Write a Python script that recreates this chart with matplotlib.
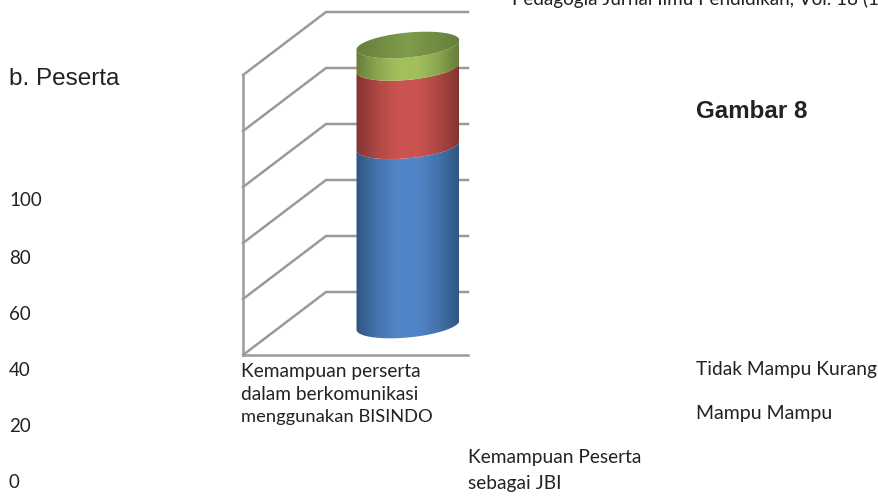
import numpy as np
import matplotlib
matplotlib.use("Agg")
import matplotlib.pyplot as plt
from matplotlib.patches import PathPatch
from matplotlib.path import Path
from matplotlib.colors import LinearSegmentedColormap

# values
axis_ticks = [0, 20, 40, 60, 80, 100]
segment_values = [64, 28, 8]
segment_colors = ["#5285c8", "#cb5450", "#a1c05c"]
segment_shades = ["#4473ad", "#ad4744", "#8ba54f"]
segment_edges = ["#2f5583", "#843331", "#667d39"]
top_colors = ["#667f3c", "#7f9c4c"]
tick_label_y = [481, 425, 369, 313, 257, 200]

scale = 2.8  # pixels per unit
base_y = 325  # pixel row of value 0 at the cylinder centre

fig = plt.figure(figsize=(8.79, 4.96), dpi=100)
ax = fig.add_axes([0, 0, 1, 1])
ax.set_xlim(0, 879)
ax.set_ylim((base_y - 496) / scale, base_y / scale)
ax.axis("off")

grid_color = "#9a9a9a"
front_shift = -30 / scale
back_shift = 33 / scale

# walls
for v in axis_ticks:
    ax.plot([243, 326, 468], [v + front_shift, v + back_shift, v + back_shift],
            color=grid_color, lw=1.8, solid_joinstyle="miter", zorder=1)
ax.plot([243, 243], [front_shift, 100 + front_shift], color=grid_color, lw=1.8, zorder=1)
ax.plot([243, 468], [front_shift, front_shift], color=grid_color, lw=1.8, zorder=1)

# cylinder
cx, a = 408, 51.5
b = 12.5 / scale
tilt = 0.09 / scale
t = np.linspace(0, 2 * np.pi, 200)


def ring(v):
    xs = cx + a * np.cos(t)
    ys = v + b * np.sin(t) + tilt * (xs - cx)
    return xs, ys


def front_arc(v):
    tt = np.linspace(np.pi, 2 * np.pi, 100)
    xs = cx + a * np.cos(tt)
    ys = v + b * np.sin(tt) + tilt * (xs - cx)
    return xs, ys


def gradient_fill(verts, stops, z):
    cmap = LinearSegmentedColormap.from_list("g", stops)
    im = ax.imshow(np.linspace(0, 1, 256).reshape(1, -1), cmap=cmap, aspect="auto",
                   extent=[cx - a, cx + a, -30, 120], zorder=z, interpolation="bilinear")
    im.set_clip_path(PathPatch(Path(verts), transform=ax.transData))


bottom = 0
for i, val in enumerate(segment_values):
    top = bottom + val
    x0, y0 = front_arc(bottom)
    x1, y1 = front_arc(top)
    verts = np.vstack([np.column_stack([x0, y0]), np.column_stack([x1, y1])[::-1]])
    stops = [segment_edges[i], segment_shades[i], segment_colors[i], segment_colors[i],
             segment_shades[i], segment_edges[i]]
    gradient_fill(verts, stops, 2 + i)
    bottom = top

xs, ys = ring(bottom)
gradient_fill(np.column_stack([xs, ys]), [top_colors[0], top_colors[1], top_colors[0]], 6)
ax.set_xlim(0, 879)
ax.set_ylim((base_y - 496) / scale, base_y / scale)


def put(x, y, s, **kw):
    ax.text(x, (base_y - y) / scale, s, va="center", ha="left", color="#222222", **kw)


for v, y in zip(axis_ticks, tick_label_y):
    put(9, y + 1, str(v), family="Lato", fontsize=13.5)

put(9, 79, "b. Peserta", family="Liberation Sans", fontsize=17.5)
put(696, 111, "Gambar 8", family="Liberation Sans", fontsize=17.4, fontweight="bold")
put(512, -1, "Pedagogia Jurnal Ilmu Pendidikan, Vol. 18 (1", family="Lato", fontsize=13.6)
put(241, 371, "Kemampuan perserta", family="Lato", fontsize=13.8)
put(241, 394, "dalam berkomunikasi", family="Lato", fontsize=13.8)
put(241, 417, "menggunakan BISINDO", family="Lato", fontsize=13.2)
put(468, 458, "Kemampuan Peserta", family="Lato", fontsize=13.8)
put(468, 484, "sebagai JBI", family="Lato", fontsize=13.8)
put(696, 370, "Tidak Mampu Kurang", family="Lato", fontsize=13.8)
put(696, 413, "Mampu Mampu", family="Lato", fontsize=14)

fig.savefig("out.png", dpi=100)
